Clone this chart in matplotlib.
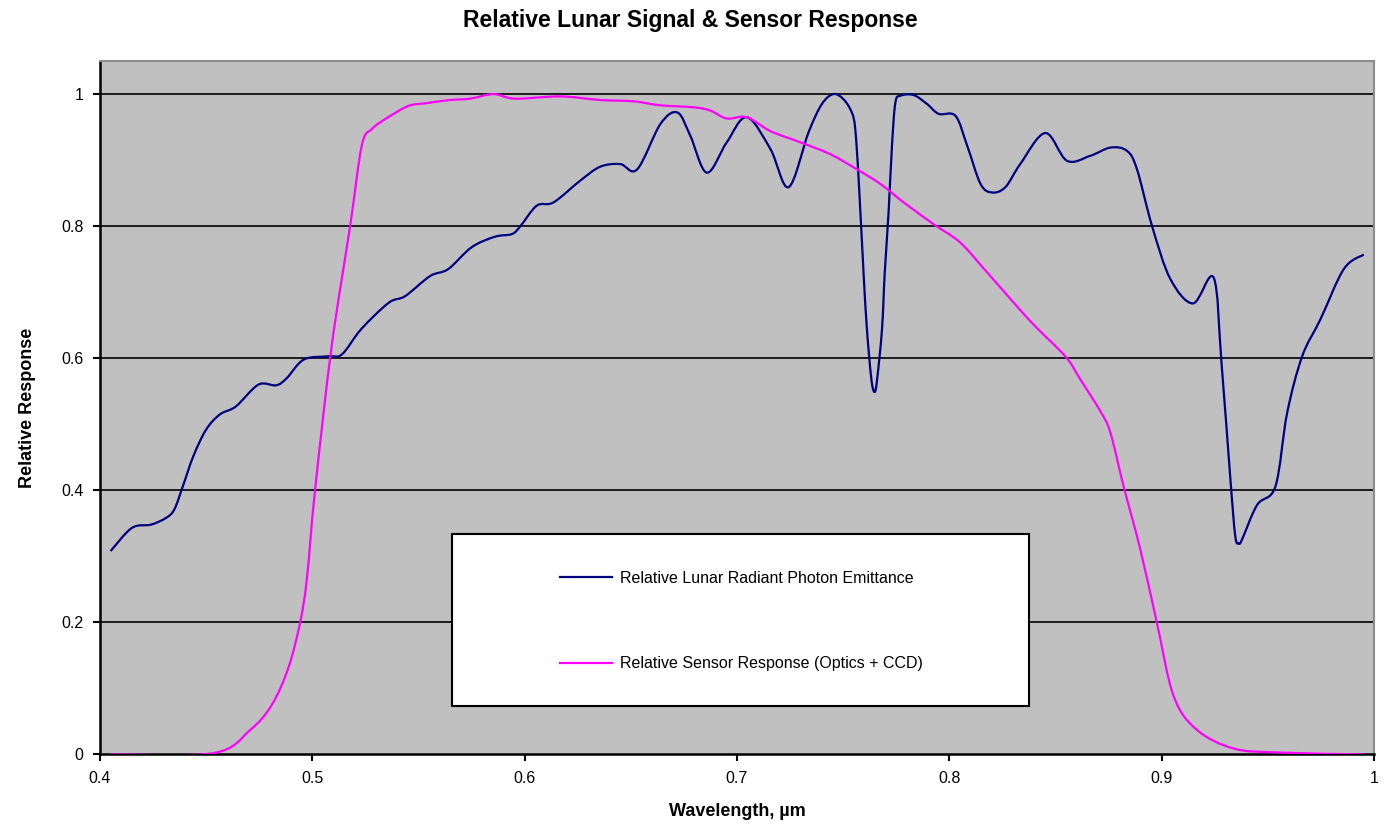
## import
import numpy as np
import matplotlib
matplotlib.use("Agg")
import matplotlib.pyplot as plt
from matplotlib.patches import Rectangle, PathPatch
from matplotlib.path import Path
from matplotlib.lines import Line2D

plt.rcParams['font.family'] = ['Liberation Sans', 'DejaVu Sans']

## data
lunar_wl = [0.405, 0.415, 0.424, 0.431, 0.435, 0.439, 0.444, 0.450, 0.4565, 0.464,
            0.4746, 0.483, 0.488, 0.496, 0.5076, 0.514, 0.523, 0.536, 0.5437, 0.5555,
            0.564, 0.575, 0.586, 0.594, 0.598, 0.6057, 0.6136, 0.6262, 0.6356, 0.645,
            0.653, 0.664, 0.672, 0.678, 0.6858, 0.6952, 0.7046, 0.7157, 0.7243, 0.7337,
            0.740, 0.7455, 0.7502, 0.7541, 0.7557, 0.7573, 0.7596, 0.7612, 0.7633, 0.7648,
            0.766, 0.7683, 0.7696, 0.7714, 0.773, 0.7746, 0.777, 0.7832, 0.7895, 0.795,
            0.8029, 0.8084, 0.8147, 0.8201, 0.8264, 0.8334,
            0.8452, 0.8554, 0.8664, 0.8759, 0.8837, 0.8884, 0.8955, 0.9041, 0.9148, 0.9245,
            0.9282, 0.9324, 0.9347, 0.9364, 0.9378, 0.945, 0.9536, 0.9591, 0.9662, 0.9748,
            0.9858, 0.9952]
lunar_resp = [0.308, 0.343, 0.348, 0.358, 0.371, 0.406, 0.452, 0.492, 0.515, 0.527,
              0.560, 0.559, 0.570, 0.598, 0.603, 0.606, 0.644, 0.684, 0.694, 0.7245,
              0.735, 0.768, 0.784, 0.788, 0.800, 0.831, 0.836, 0.869, 0.890, 0.894,
              0.886, 0.955, 0.972, 0.937, 0.881, 0.927, 0.965, 0.917, 0.859, 0.942,
              0.985, 1.000, 0.992, 0.972, 0.947, 0.871, 0.730, 0.644, 0.568, 0.549,
              0.568, 0.644, 0.730, 0.821, 0.922, 0.987, 0.9975, 0.9985, 0.985, 0.970,
              0.967, 0.922, 0.864, 0.851, 0.859, 0.894,
              0.941, 0.899, 0.9065, 0.919, 0.914, 0.886, 0.800, 0.720, 0.683, 0.722,
              0.593, 0.416, 0.330, 0.320, 0.325, 0.378, 0.406, 0.517, 0.603, 0.659,
              0.735, 0.757]

sensor_wl = [0.405, 0.4534, 0.4707, 0.4809, 0.4887, 0.4942, 0.4974, 0.5013, 0.5091, 0.5178,
             0.5233, 0.528, 0.5358, 0.5452, 0.5531, 0.5649, 0.5743, 0.5853, 0.5955, 0.6167,
             0.6356, 0.6513, 0.6638, 0.6795, 0.6874, 0.6952, 0.7046, 0.7157, 0.7298, 0.7439,
             0.7565, 0.7675, 0.7785, 0.7926, 0.8052, 0.8178, 0.8382, 0.8546, 0.8617, 0.8711,
             0.8759, 0.8821, 0.890, 0.8978, 0.9057, 0.9167, 0.9339, 0.9544, 0.9952]
sensor_resp = [0.0, 0.002, 0.037, 0.075, 0.131, 0.199, 0.265, 0.401, 0.618, 0.800,
               0.922, 0.947, 0.965, 0.982, 0.986, 0.991, 0.993, 1.000, 0.993, 0.9965,
               0.991, 0.989, 0.983, 0.980, 0.975, 0.963, 0.965, 0.944, 0.927, 0.909,
               0.886, 0.864, 0.836, 0.803, 0.775, 0.730, 0.656, 0.603, 0.568, 0.520,
               0.487, 0.406, 0.310, 0.199, 0.088, 0.037, 0.009, 0.003, 0.0]

x_ticks = [0.4, 0.5, 0.6, 0.7, 0.8, 0.9, 1.0]
x_labels = ['0.4', '0.5', '0.6', '0.7', '0.8', '0.9', '1']
y_ticks = [0, 0.2, 0.4, 0.6, 0.8, 1.0]
y_labels = ['0', '0.2', '0.4', '0.6', '0.8', '1']

LUNAR_C = '#000080'
SENSOR_C = '#FF00FF'


## 함수: smoothed line like a spreadsheet chart (bezier through the points)
def smooth_path(xs, ys):
    p = np.column_stack([xs, ys])
    n = len(p)
    verts = [p[0]]
    codes = [Path.MOVETO]
    for i in range(n - 1):
        p0 = p[i - 1] if i > 0 else p[i]
        p3 = p[i + 2] if i + 2 < n else p[i + 1]
        c1 = p[i] + (p[i + 1] - p0) / 6.0
        c2 = p[i + 1] - (p3 - p[i]) / 6.0
        verts += [c1, c2, p[i + 1]]
        codes += [Path.CURVE4] * 3
    return Path(verts, codes)


## plot
fig = plt.figure(figsize=(13.87, 8.25), dpi=100)
ax = fig.add_axes([0.0721, 0.0855, 0.9185, 0.8405])
ax.set_facecolor('#C0C0C0')

for yv in y_ticks[1:]:
    ax.axhline(yv, color='black', lw=1.2, zorder=1)

ax.add_patch(PathPatch(smooth_path(lunar_wl, lunar_resp), fill=False,
                       edgecolor=LUNAR_C, lw=1.6, zorder=3))
ax.add_patch(PathPatch(smooth_path(sensor_wl, sensor_resp), fill=False,
                       edgecolor=SENSOR_C, lw=1.6, zorder=3))

ax.set_xlim(0.4, 1.0)
ax.set_ylim(0, 1.05)
ax.set_xticks(x_ticks)
ax.set_xticklabels(x_labels)
ax.set_yticks(y_ticks)
ax.set_yticklabels(y_labels)
ax.tick_params(direction='out', length=5, width=1.5, labelsize=11.5, pad=7)

for s in ['left', 'bottom']:
    ax.spines[s].set_linewidth(1.8)
    ax.spines[s].set_color('black')
for s in ['top', 'right']:
    ax.spines[s].set_linewidth(1.5)
    ax.spines[s].set_color('#8c8c8c')

# legend box
ax.add_patch(Rectangle((0.2763, 0.0699), 0.4529, 0.248, transform=ax.transAxes,
                       facecolor='white', edgecolor='black', lw=1.5, zorder=4))
handles = [Line2D([], [], color=LUNAR_C, lw=1.6),
           Line2D([], [], color=SENSOR_C, lw=1.6)]
labels = ['Relative Lunar Radiant Photon Emittance',
          'Relative Sensor Response (Optics + CCD)']
leg = ax.legend(handles, labels, loc='center left', bbox_to_anchor=(0.361, 0.1925),
                frameon=False, fontsize=11.5, handlelength=3.25, handletextpad=0.5,
                labelspacing=4.4, borderaxespad=0, borderpad=0)
leg.set_zorder(5)

fig.text(0.498, 1 - 21 / 825, 'Relative Lunar Signal & Sensor Response',
         ha='center', va='center', fontsize=16.5, fontweight='bold')
ax.set_xlabel('Wavelength, µm', fontsize=13, fontweight='bold', labelpad=12)
ax.set_ylabel('Relative Response', fontsize=13, fontweight='bold', labelpad=18)

fig.savefig('out.png', dpi=100)
